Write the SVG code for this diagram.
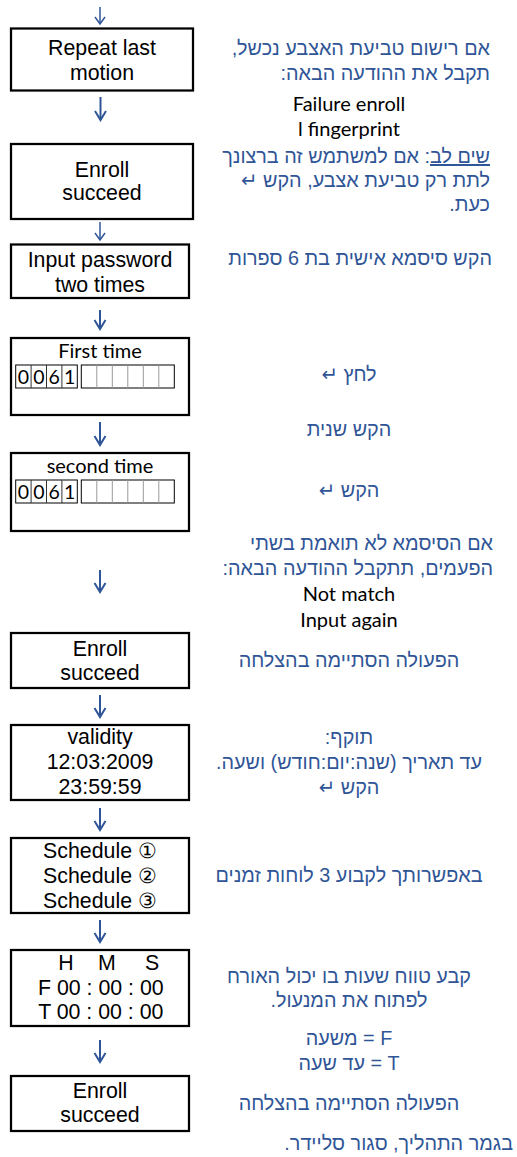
<svg xmlns="http://www.w3.org/2000/svg" width="517" height="1157" viewBox="0 0 517 1157">
<style>
.box{fill:#fff;stroke:#000;stroke-width:2.25}
.bt{font-family:"Liberation Sans",Arial,sans-serif;font-size:21.33px;fill:#000;text-anchor:middle}
.cal{font-family:Lato,"Liberation Sans",sans-serif;font-size:20px;fill:#000;text-anchor:middle}
.dg{font-family:Lato,"Liberation Sans",sans-serif;font-size:19.5px;fill:#000;text-anchor:middle}
.he{font-family:"Liberation Sans","DejaVu Sans",sans-serif;font-size:19.8px;fill:#2F5597;direction:rtl}
.hc{text-anchor:middle}
.hr{text-anchor:start}
.conn{stroke:#2F5597;fill:none}
.big{stroke-width:2;marker-end:url(#hb)}
.sm{stroke-width:1.5;marker-end:url(#hs)}
.cell{fill:none;stroke:#000;stroke-width:1}
.div1{stroke:#333;stroke-width:1}
.div2{stroke:#999;stroke-width:1}
</style>
<defs>
<marker id="hb" markerUnits="userSpaceOnUse" markerWidth="14" markerHeight="14" refX="10" refY="6" orient="auto" overflow="visible">
<path d="M1,0.5 L10,6 L1,11.5" fill="none" stroke="#2F5597" stroke-width="2"/>
</marker>
<marker id="hs" markerUnits="userSpaceOnUse" markerWidth="12" markerHeight="12" refX="8" refY="5" orient="auto" overflow="visible">
<path d="M1,0 L8,5 L1,10" fill="none" stroke="#2F5597" stroke-width="1.5"/>
</marker>
</defs>
<rect width="517" height="1157" fill="#fff"/>

<g id="connectors">
<line class="conn sm" x1="100" y1="7" x2="100" y2="24"/>
<line class="conn big" x1="100.5" y1="97" x2="100.5" y2="120"/>
<line class="conn sm" x1="100" y1="222" x2="100" y2="240"/>
<line class="conn big" x1="100" y1="310" x2="100" y2="329"/>
<line class="conn big" x1="100" y1="422" x2="100" y2="445"/>
<line class="conn big" x1="100" y1="570" x2="100" y2="592"/>
<line class="conn big" x1="100" y1="695" x2="100" y2="717"/>
<line class="conn big" x1="100" y1="808" x2="100" y2="830"/>
<line class="conn big" x1="100" y1="920" x2="100" y2="942"/>
<line class="conn big" x1="100" y1="1040" x2="100" y2="1062"/>
</g>

<g id="repeat-last-motion">
<rect class="box" x="11" y="28.5" width="182" height="62"/>
<text class="bt" x="102" y="55">Repeat last</text>
<text class="bt" x="102" y="80">motion</text>
</g>

<g id="enroll-succeed-1">
<rect class="box" x="11" y="144" width="182" height="75"/>
<text class="bt" x="102" y="177">Enroll</text>
<text class="bt" x="102" y="200">succeed</text>
</g>

<g id="input-password">
<rect class="box" x="11" y="244.5" width="178" height="53.5"/>
<text class="bt" x="100" y="267">Input password</text>
<text class="bt" x="100" y="292">two times</text>
</g>

<g id="first-time">
<rect class="box" x="11" y="338" width="178" height="77"/>
<text class="cal" x="100" y="358">First time</text>
<rect class="cell" x="15.7" y="365" width="61.6" height="23"/>
<line class="div1" x1="31.1" y1="365" x2="31.1" y2="388"/>
<line class="div1" x1="46.5" y1="365" x2="46.5" y2="388"/>
<line class="div1" x1="61.9" y1="365" x2="61.9" y2="388"/>
<text class="dg" x="23.4" y="384">0</text>
<text class="dg" x="38.8" y="384">0</text>
<text class="dg" x="54.2" y="384">6</text>
<text class="dg" x="69.6" y="384">1</text>
<rect class="cell" x="81.3" y="365" width="93" height="23"/>
<line class="div2" x1="96.8" y1="365" x2="96.8" y2="388"/>
<line class="div2" x1="112.3" y1="365" x2="112.3" y2="388"/>
<line class="div2" x1="127.8" y1="365" x2="127.8" y2="388"/>
<line class="div2" x1="143.3" y1="365" x2="143.3" y2="388"/>
<line class="div2" x1="158.8" y1="365" x2="158.8" y2="388"/>
</g>

<g id="second-time">
<rect class="box" x="11" y="453" width="178" height="78"/>
<text class="cal" x="100" y="473">second time</text>
<rect class="cell" x="15.7" y="480" width="61.6" height="23"/>
<line class="div1" x1="31.1" y1="480" x2="31.1" y2="503"/>
<line class="div1" x1="46.5" y1="480" x2="46.5" y2="503"/>
<line class="div1" x1="61.9" y1="480" x2="61.9" y2="503"/>
<text class="dg" x="23.4" y="499">0</text>
<text class="dg" x="38.8" y="499">0</text>
<text class="dg" x="54.2" y="499">6</text>
<text class="dg" x="69.6" y="499">1</text>
<rect class="cell" x="81.3" y="480" width="93" height="23"/>
<line class="div2" x1="96.8" y1="480" x2="96.8" y2="503"/>
<line class="div2" x1="112.3" y1="480" x2="112.3" y2="503"/>
<line class="div2" x1="127.8" y1="480" x2="127.8" y2="503"/>
<line class="div2" x1="143.3" y1="480" x2="143.3" y2="503"/>
<line class="div2" x1="158.8" y1="480" x2="158.8" y2="503"/>
</g>

<g id="enroll-succeed-2">
<rect class="box" x="11" y="633" width="178" height="55"/>
<text class="bt" x="100" y="656">Enroll</text>
<text class="bt" x="100" y="680">succeed</text>
</g>

<g id="validity">
<rect class="box" x="11" y="725" width="178" height="75"/>
<text class="bt" x="100" y="744">validity</text>
<text class="bt" x="100" y="769">12:03:2009</text>
<text class="bt" x="100" y="794">23:59:59</text>
</g>

<g id="schedule">
<rect class="box" x="11" y="838" width="178" height="75"/>
<text class="bt" x="100" y="858">Schedule ①</text>
<text class="bt" x="100" y="883">Schedule ②</text>
<text class="bt" x="100" y="908">Schedule ③</text>
</g>

<g id="time-range">
<rect class="box" x="11" y="950" width="178" height="76"/>
<text class="bt" y="970"><tspan x="66">H</tspan><tspan x="107">M</tspan><tspan x="152">S</tspan></text>
<text class="bt" x="100.8" y="995">F 00 : 00 : 00</text>
<text class="bt" x="100.8" y="1019">T 00 : 00 : 00</text>
</g>

<g id="enroll-succeed-3">
<rect class="box" x="11" y="1076" width="178" height="55"/>
<text class="bt" x="100" y="1098">Enroll</text>
<text class="bt" x="100" y="1122">succeed</text>
</g>

<g id="notes">
<text class="he hr" x="490" y="55">אם רישום טביעת האצבע נכשל,</text>
<text class="he hr" x="490" y="80">תקבל את ההודעה הבאה:</text>
<text class="cal" x="349" y="111">Failure enroll</text>
<text class="cal" x="349" y="136">l fingerprint</text>
<text class="he hr" x="490" y="163"><tspan text-decoration="underline">שים לב</tspan>: אם למשתמש זה ברצונך</text>
<text class="he hr" x="490" y="187">לתת רק טביעת אצבע, הקש ↵</text>
<text class="he hr" x="490" y="211">כעת.</text>
<text class="he hr" x="492" y="265">הקש סיסמא אישית בת 6 ספרות</text>
<text class="he hc" x="349" y="381">לחץ ↵</text>
<text class="he hc" x="349" y="436">הקש שנית</text>
<text class="he hc" x="349" y="497">הקש ↵</text>
<text class="he hr" x="493" y="550">אם הסיסמא לא תואמת בשתי</text>
<text class="he hr" x="493" y="575">הפעמים, תתקבל ההודעה הבאה:</text>
<text class="cal" x="349" y="601">Not match</text>
<text class="cal" x="349" y="627">Input again</text>
<text class="he hc" x="349" y="667">הפעולה הסתיימה בהצלחה</text>
<text class="he hc" x="349" y="744">תוקף:</text>
<text class="he hc" x="349" y="769">עד תאריך (שנה:יום:חודש) ושעה.</text>
<text class="he hc" x="349" y="794">הקש ↵</text>
<text class="he hc" x="349" y="882">באפשרותך לקבוע 3 לוחות זמנים</text>
<text class="he hc" x="349" y="983">קבע טווח שעות בו יכול האורח</text>
<text class="he hc" x="349" y="1007">לפתוח את המנעול.</text>
<text class="he hc" x="349" y="1045">F = משעה</text>
<text class="he hc" x="349" y="1070">T = עד שעה</text>
<text class="he hc" x="349" y="1110">הפעולה הסתיימה בהצלחה</text>
<text class="he hr" x="513" y="1150">בגמר התהליך, סגור סליידר.</text>
</g>
</svg>
